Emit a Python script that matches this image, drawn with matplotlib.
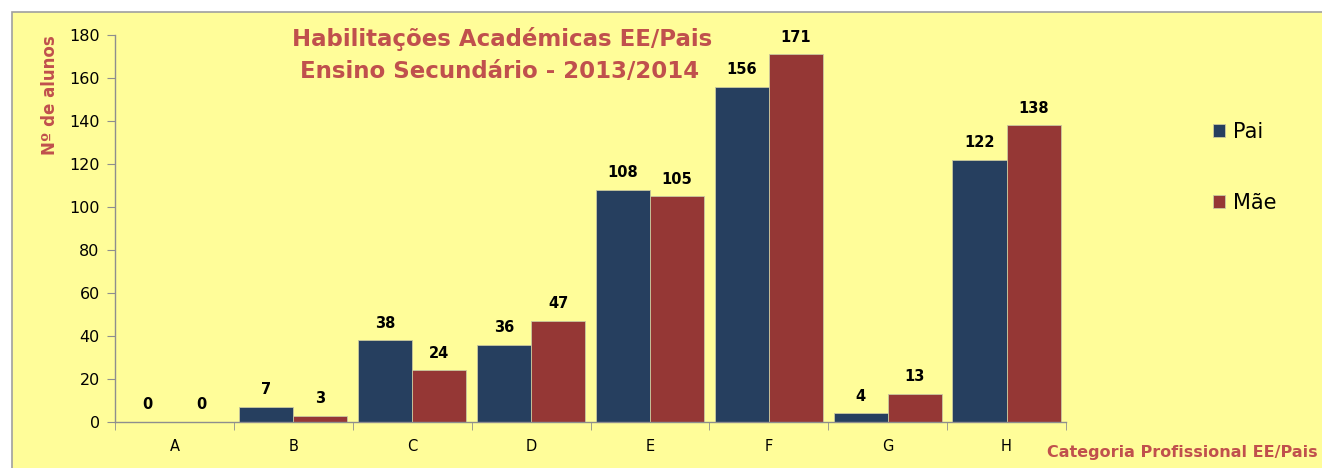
import matplotlib
matplotlib.use("Agg")
import matplotlib.pyplot as plt
from matplotlib.patches import Rectangle
import numpy as np

categories = ["A", "B", "C", "D", "E", "F", "G", "H"]
pai = [0, 7, 38, 36, 108, 156, 4, 122]
mae = [0, 3, 24, 47, 105, 171, 13, 138]
series_names = ["Pai", "Mãe"]
title_lines = ["Habilitações Académicas EE/Pais", "Ensino Secundário - 2013/2014"]
yticks = [0, 20, 40, 60, 80, 100, 120, 140, 160, 180]

W, H = 1322, 468
BG = "#FFFD99"
C_PAI = "#263F5F"
C_MAE = "#953735"
C_TXT = "#C0504D"

fig = plt.figure(figsize=(W / 100, H / 100), dpi=100, facecolor="white")
fig.patches.append(Rectangle((12 / W, -0.01), 1.02, (H - 12) / H + 0.01,
                             transform=fig.transFigure, facecolor=BG,
                             edgecolor="#A0A0A0", linewidth=1.2, zorder=-10))

ax = fig.add_axes([115 / W, 46 / H, (1066 - 115) / W, (422 - 35) / H])
ax.set_facecolor("none")

x = np.arange(len(categories))
bw = 0.455
b1 = ax.bar(x - bw / 2, pai, bw, color=C_PAI, edgecolor="#C9C9A0", linewidth=0.6, label=series_names[0], zorder=2)
b2 = ax.bar(x + bw / 2, mae, bw, color=C_MAE, edgecolor="#C9C9A0", linewidth=0.6, label=series_names[1], zorder=2)

for bars, vals in ((b1, pai), (b2, mae)):
    for r, v in zip(bars, vals):
        ax.annotate(str(v), (r.get_x() + r.get_width() / 2, v), xytext=(0, 7),
                    textcoords="offset points", ha="center", va="bottom",
                    fontsize=10.5, fontweight="bold", color="black")

ax.set_xlim(-0.5, len(categories) - 0.5)
ax.set_ylim(0, 180)
ax.set_yticks(yticks)
ax.set_yticklabels([str(t) for t in yticks], fontsize=11.5,
                   family=["Liberation Sans Narrow", "DejaVu Sans"])
ax.set_xticks(x)
ax.set_xticklabels(categories, fontsize=10.5)
ax.set_xticks(np.arange(len(categories) + 1) - 0.5, minor=True)
ax.tick_params(axis="x", which="major", length=0, pad=12)
ax.tick_params(axis="x", which="minor", length=6, color="#8E8E8E", direction="out")
ax.tick_params(axis="y", length=6, color="#8E8E8E", direction="out", pad=5)

for s in ("top", "right"):
    ax.spines[s].set_visible(False)
for s in ("left", "bottom"):
    ax.spines[s].set_color("#8E8E8E")
    ax.spines[s].set_linewidth(1.0)

fig.text(502 / W, 1 - 39 / H, title_lines[0], ha="center", va="center",
         fontsize=16.5, fontweight="bold", color=C_TXT)
fig.text(500 / W, 1 - 72 / H, title_lines[1], ha="center", va="center",
         fontsize=16.5, fontweight="bold", color=C_TXT)

fig.text(50 / W, 1 - 95 / H, "Nº de alunos", rotation=90, ha="center", va="center",
         fontsize=12, fontweight="bold", color=C_TXT)
fig.text(1318 / W, 1 - 453 / H, "Categoria Profissional EE/Pais", ha="right", va="center",
         fontsize=11.5, fontweight="bold", color=C_TXT)

fig.legend(handles=[b1, b2], labels=series_names, loc="upper left",
           bbox_to_anchor=(1194 / W, 1 - 103 / H), frameon=False,
           fontsize=15, handlelength=0.6, handleheight=0.6, handletextpad=0.35,
           labelspacing=2.45)

fig.savefig("out.png", dpi=100, facecolor="white")
